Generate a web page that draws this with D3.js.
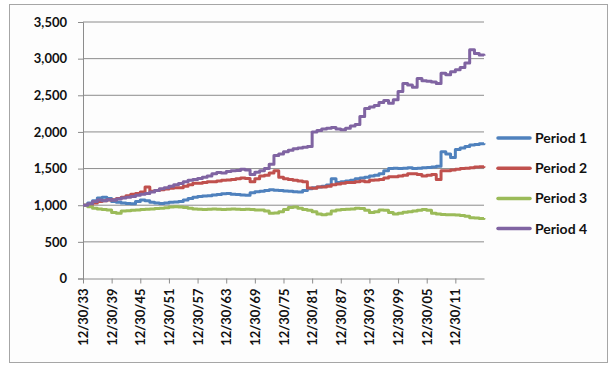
<!DOCTYPE html>
<html><head><meta charset="utf-8">
<script src="https://cdn.jsdelivr.net/npm/d3@7"></script>
<style>
html,body{margin:0;padding:0;background:#fff;}
svg{display:block;font-family:"Lato","Open Sans",sans-serif;font-weight:bold;}
</style></head><body>
<svg id="c" width="614" height="370"></svg>
<script>
const startYear = 1933;
const seriesNames = ["Period 1","Period 2","Period 3","Period 4"];
const colors = ["#4F81BD","#C0504D","#9BBB59","#8064A2"];
const yTicks = [0,500,1000,1500,2000,2500,3000,3500];
const xTickYears = [1933,1939,1945,1951,1957,1963,1969,1975,1981,1987,1993,1999,2005,2011];

// yearly values from 12/30/1933 to 12/30/2017
const period1 = [1000,1030,1060,1100,1110,1090,1050,1040,1030,1025,1020,1050,1070,1060,1040,1030,1025,1030,1040,1045,
 1050,1070,1090,1110,1120,1125,1130,1140,1145,1155,1160,1150,1145,1140,1135,1170,1185,1190,1200,1210,
 1205,1200,1195,1190,1185,1180,1200,1225,1240,1250,1260,1275,1360,1310,1320,1330,1340,1360,1370,1380,
 1400,1410,1430,1470,1500,1505,1500,1505,1510,1500,1505,1510,1515,1520,1530,1730,1700,1650,1760,1780,
 1800,1820,1830,1840,1845];
const period2 = [1000,1010,1030,1050,1060,1070,1075,1090,1110,1130,1150,1160,1180,1250,1190,1200,1210,1220,1230,1240,
 1240,1260,1280,1300,1300,1310,1320,1320,1330,1340,1345,1350,1360,1370,1365,1320,1360,1400,1410,1440,
 1470,1380,1360,1350,1340,1330,1320,1235,1230,1250,1250,1260,1280,1290,1300,1310,1310,1320,1330,1320,
 1340,1345,1350,1370,1390,1390,1400,1410,1430,1430,1420,1400,1410,1420,1350,1470,1470,1480,1490,1500,
 1505,1510,1520,1525,1530];
const period3 = [1000,980,960,950,940,935,900,890,920,925,930,935,940,945,950,955,960,965,975,980,
 975,970,960,950,945,940,945,950,945,940,945,950,945,940,945,940,935,935,920,890,
 895,910,940,970,975,960,940,930,910,880,870,880,920,935,940,945,950,960,955,930,
 900,910,935,930,900,880,890,905,912,920,930,940,930,890,880,875,870,870,865,860,
 850,830,825,820,825];
const period4 = [1000,1020,1050,1070,1060,1075,1070,1085,1100,1110,1120,1135,1150,1160,1180,1200,1225,1240,1260,1280,
 1295,1320,1340,1350,1365,1380,1400,1430,1445,1440,1460,1470,1475,1490,1480,1420,1450,1470,1500,1560,
 1680,1700,1730,1750,1770,1780,1790,1800,2000,2020,2040,2050,2060,2040,2030,2050,2080,2100,2210,2320,
 2340,2360,2400,2430,2390,2440,2550,2660,2640,2610,2730,2700,2690,2680,2660,2800,2780,2820,2850,2880,
 2940,3120,3070,3050,3040];
const allSeries = [period1, period2, period3, period4];

const svg = d3.select("#c");
// outer frame
svg.append("rect").attr("x",9.5).attr("y",4.5).attr("width",598).attr("height",358)
  .attr("fill","#fdfdfd").attr("stroke","#a6a6a6").attr("stroke-width",1);

const pL = 83, pR = 484, pT = 22, pB = 278.5;
const dateOf = yr => new Date(yr, 11, 30);
const x = d3.scaleTime().domain([dateOf(startYear), dateOf(startYear + period1.length - 1)]).range([pL, pR]);
const y = d3.scaleLinear().domain([0,3500]).range([pB, pT]);

// gridlines
svg.append("g").selectAll("line").data(yTicks.filter(t=>t>0)).join("line")
  .attr("x1",pL).attr("x2",pR).attr("y1",d=>y(d)).attr("y2",d=>y(d))
  .attr("stroke","#8c8c8c").attr("stroke-width",1);

// y axis
const yAxis = svg.append("g").attr("transform",`translate(${pL},0)`)
  .call(d3.axisLeft(y).tickValues(yTicks).tickSize(5).tickPadding(11).tickFormat(d3.format(",")));
yAxis.select(".domain").attr("stroke","#8c8c8c");
yAxis.selectAll(".tick line").attr("stroke","#8c8c8c");
yAxis.selectAll("text").attr("font-size","13px").attr("font-family","Lato, 'Open Sans', sans-serif").attr("font-weight","bold").attr("fill","#111");

// x axis
const fmt = d3.timeFormat("%m/%d/%y");
const xAxis = svg.append("g").attr("transform",`translate(0,${pB})`)
  .call(d3.axisBottom(x).tickValues(xTickYears.map(dateOf)).tickSize(5).tickSizeOuter(0).tickFormat(fmt));
xAxis.select(".domain").attr("stroke","#8c8c8c");
xAxis.selectAll(".tick line").attr("stroke","#8c8c8c");
xAxis.selectAll("text")
  .attr("font-size","13px").attr("font-family","Lato, 'Open Sans', sans-serif").attr("font-weight","bold").attr("fill","#111")
  .attr("transform","rotate(-90)").attr("text-anchor","end").attr("dx","-10px").attr("dy","0.35em").attr("y",0).attr("x",0);

// lines
const line = d3.line().x((d,i)=>x(dateOf(startYear+i))).y(d=>y(d)).curve(d3.curveStepAfter);
allSeries.forEach((s,k)=>{
  svg.append("path").datum(s).attr("d",line).attr("fill","none")
    .attr("stroke",colors[k]).attr("stroke-width",3).attr("stroke-linejoin","round");
});

// legend
const lg = svg.append("g");
seriesNames.forEach((n,k)=>{
  const ly = 138 + k*30.2;
  lg.append("line").attr("x1",498).attr("x2",530).attr("y1",ly).attr("y2",ly)
    .attr("stroke",colors[k]).attr("stroke-width",3.5).attr("stroke-linecap","round");
  lg.append("text").attr("x",535).attr("y",ly).attr("dy","0.35em").attr("font-size","14px").attr("fill","#111").text(n);
});
</script></body></html>
